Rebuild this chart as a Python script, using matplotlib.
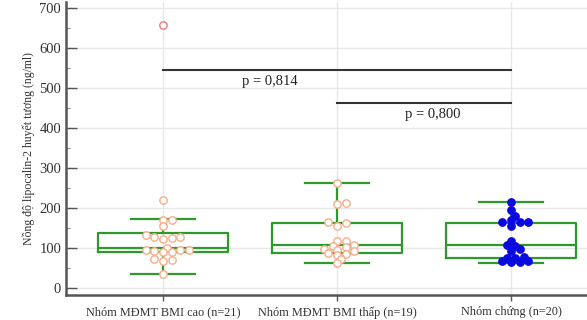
import numpy as np
import matplotlib
matplotlib.use('Agg')
import matplotlib.pyplot as plt
from matplotlib.ticker import MultipleLocator

plt.rcParams['font.family'] = ['Liberation Serif', 'DejaVu Serif']

# data
groups = ['Nhóm MĐMT BMI cao (n=21)', 'Nhóm MĐMT BMI thấp (n=19)', 'Nhóm chứng (n=20)']
cao = [657, 221, 171, 171, 156, 132, 128, 127, 124, 122, 99, 95, 95, 95, 92, 89, 89, 73, 70, 68, 34]
thap = [262, 213, 210, 164, 163, 156, 118, 117, 108, 105, 102, 97, 96, 93, 88, 85, 82, 72, 63]
chung = [216, 195, 181, 170, 164, 164, 164, 156, 118, 108, 106, 97, 93, 77, 76, 76, 68, 67, 66, 64]

# box statistics as drawn
q1 = [89, 88, 76]
med = [99, 107, 107]
q3 = [138, 163, 163]
whislo = [34, 63, 63]
whishi = [172, 262, 214]

# comparisons: (from group, to group, height, p label)
comp_from = [0, 1]
comp_to = [2, 2]
comp_y = [545, 463]
comp_p = ['p = 0,814', 'p = 0,800']

fig = plt.figure(figsize=(5.87, 3.2), dpi=100)
ax = fig.add_axes([66 / 587, 25 / 320, 521 / 587, 293 / 320])
ax.set_xlim(-0.557, 2.437)
ax.set_ylim(-17.5, 715)

green = '#2e9a2e'
stats = []
for i in range(3):
    stats.append({'q1': q1[i], 'med': med[i], 'q3': q3[i],
                  'whislo': whislo[i], 'whishi': whishi[i], 'fliers': []})
lp = dict(color=green, linewidth=1.6)
ax.bxp(stats, positions=[0, 1, 2], widths=0.75, capwidths=0.37,
       boxprops=lp, medianprops=lp, whiskerprops=lp, capprops=lp, zorder=3)

# pixels per data unit
px_x = 521 / (2.437 + 0.557)
px_y = 293 / (715 + 17.5)


def swarm(vals, diam=5.5, step=4.3):
    vals = np.asarray(vals, dtype=float)
    offs = np.zeros(len(vals))
    placed = []
    for i in np.argsort(vals):
        y = vals[i] * px_y
        for k in range(40):
            cand = ((k + 1) // 2) * step * (1 if k % 2 else -1) if k else 0.0
            if all((cand - px) ** 2 + (y - py) ** 2 >= diam ** 2 for px, py in placed):
                break
        placed.append((cand, y))
        offs[i] = cand / px_x
    return offs


for i, vals in enumerate([cao, thap, chung]):
    vals = np.asarray(vals, dtype=float)
    x = i + swarm(vals)
    far = vals > q3[i] + 3 * (q3[i] - q1[i])
    if i < 2:
        ax.scatter(x[~far], vals[~far], s=28, facecolor='white', edgecolor='#f6ad88',
                   linewidth=1.0, zorder=4)
        ax.scatter(x[far], vals[far], s=28, facecolor='white', edgecolor='#f07a7a',
                   linewidth=1.0, zorder=4)
    else:
        ax.scatter(x, vals, s=28, color='#0a0ae0', zorder=4)

label_x = [0.615, 1.55]
for a, b, y, p, tx in zip(comp_from, comp_to, comp_y, comp_p, label_x):
    ax.plot([a, b], [y, y], color='#333333', linewidth=1.5, zorder=5)
    ax.text(tx, y - 12, p, ha='center', va='top', fontsize=10.5, color='#222222')

ax.set_xticks([0, 1, 2])
ax.set_xticklabels(groups, fontsize=8.8, color='#333333')
ax.yaxis.set_major_locator(MultipleLocator(100))
ax.yaxis.set_minor_locator(MultipleLocator(50))
ax.tick_params(axis='y', which='major', direction='in', length=8, width=1, colors='#555555',
               labelsize=10.5, labelcolor='#333333')
ax.tick_params(axis='y', which='minor', direction='in', length=3, width=0.8, colors='#888888')
ax.tick_params(axis='x', direction='out', length=4, width=1, colors='#555555',
               labelcolor='#333333', pad=4)
ax.set_ylabel('Nồng độ lipocalin-2 huyết tương (ng/ml)', fontsize=8.5, color='#333333', labelpad=3)

ax.grid(True, color='#e8e8e8', linewidth=1)
ax.set_axisbelow(True)
for s in ['top', 'right']:
    ax.spines[s].set_visible(False)
for s in ['left', 'bottom']:
    ax.spines[s].set_color('#555555')
    ax.spines[s].set_linewidth(1.8)

fig.savefig('out.png', dpi=100)
